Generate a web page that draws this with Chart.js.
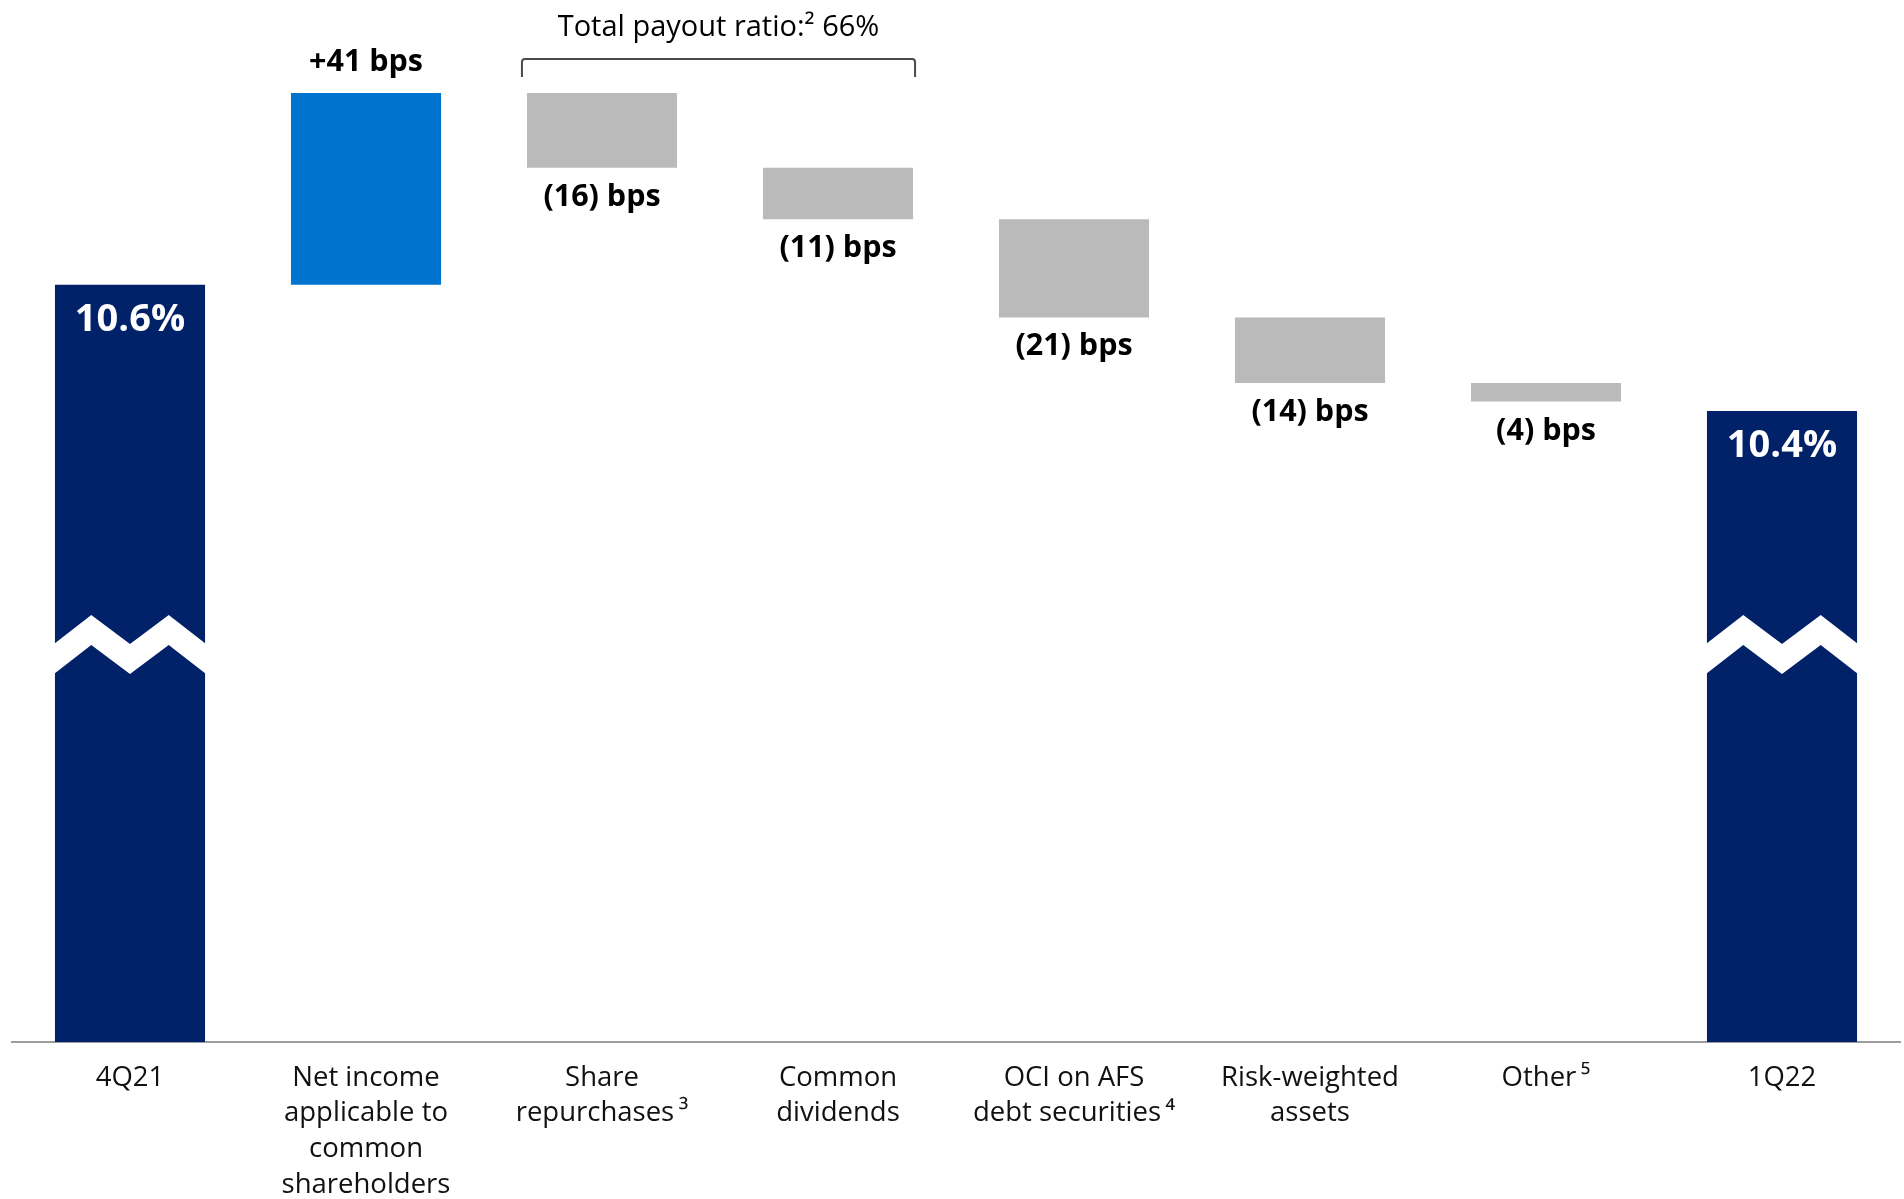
<!DOCTYPE html>
<html><head><meta charset="utf-8">
<script src="https://cdn.jsdelivr.net/npm/chart.js@4.4.1/dist/chart.umd.min.js"></script>
<style>html,body{margin:0;padding:0;background:#fff;overflow:hidden}#wrap{width:1904px;height:1199px;position:relative}</style>
</head><body><div id="wrap"><canvas id="c" width="1904" height="1199"></canvas></div>
<script>
// ---- data ----
const categories = [
  ["4Q21"],
  ["Net income", "applicable to", "common", "shareholders"],
  ["Share", "repurchases\u2009³"],
  ["Common", "dividends"],
  ["OCI on AFS", "debt securities\u2009⁴"],
  ["Risk-weighted", "assets"],
  ["Other\u2009⁵"],
  ["1Q22"]
];
const startValueBps = 1060;           // 10.6%
const changesBps = [41, -16, -11, -21, -14, -4];
const endValueBps = 1033;             // 10.4% bar (as drawn)
const valueLabels = ["10.6%", "+41 bps", "(16) bps", "(11) bps", "(21) bps", "(14) bps", "(4) bps", "10.4%"];
const payoutLabel = "Total payout ratio:² 66%";
const axisMinBps = 898;
const axisMaxBps = 1110;

// ---- build floating bars ----
const floating = [[axisMinBps, startValueBps]];
let level = startValueBps;
changesBps.forEach(d => { floating.push([level, level + d]); level += d; });
floating.push([axisMinBps, endValueBps]);

const NAVY = '#012169', BLUE = '#0073CF', GRAY = '#BABABA';
const colors = floating.map((v, i) => {
  if (i === 0 || i === floating.length - 1) return NAVY;
  return changesBps[i - 1] > 0 ? BLUE : GRAY;
});

const FONT = '"Open Sans", "Noto Sans", sans-serif';

const overlay = {
  id: 'overlay',
  afterDatasetsDraw(chart) {
    const ctx = chart.ctx;
    const meta = chart.getDatasetMeta(0);
    const last = meta.data.length - 1;
    const ca = chart.chartArea;
    const rects = meta.data.map(bar => {
      const p = bar.getProps(['x', 'y', 'base', 'width'], true);
      return { left: p.x - p.width / 2, right: p.x + p.width / 2, top: Math.min(p.y, p.base), bottom: Math.max(p.y, p.base), cx: p.x, w: p.width };
    });
    ctx.save();
    rects.forEach((r, i) => {
      ctx.textAlign = 'center';
      ctx.textBaseline = 'alphabetic';
      if (i === 0 || i === last) {
        // axis-break zigzag
        const Y = ca.bottom - 398, amp = 29, band = 30;
        const l = r.left - 1, rr = r.right + 1;
        ctx.fillStyle = '#ffffff';
        ctx.beginPath();
        ctx.moveTo(l, Y);
        ctx.lineTo(r.left + 0.242 * r.w, Y - amp);
        ctx.lineTo(r.left + 0.5 * r.w, Y);
        ctx.lineTo(r.left + 0.758 * r.w, Y - amp);
        ctx.lineTo(rr, Y);
        ctx.lineTo(rr, Y + band);
        ctx.lineTo(r.left + 0.758 * r.w, Y - amp + band);
        ctx.lineTo(r.left + 0.5 * r.w, Y + band);
        ctx.lineTo(r.left + 0.242 * r.w, Y - amp + band);
        ctx.lineTo(l, Y + band);
        ctx.closePath();
        ctx.fill();
        ctx.fillStyle = '#ffffff';
        ctx.font = '700 38px ' + FONT;
        ctx.fillText(valueLabels[i], r.cx, r.top + 46);
      } else {
        ctx.fillStyle = '#000000';
        ctx.font = '700 30.5px ' + FONT;
        if (changesBps[i - 1] > 0) ctx.fillText(valueLabels[i], r.cx, r.top - 22);
        else ctx.fillText(valueLabels[i], r.cx, r.bottom + 38);
      }
    });
    // payout bracket over share repurchases + common dividends
    const a = rects[2], b = rects[3];
    const xL = a.left - 5, xR = b.right + 2, yT = a.top - 34, yE = a.top - 16, rad = 3;
    ctx.strokeStyle = '#4a4a4a';
    ctx.lineWidth = 2;
    ctx.beginPath();
    ctx.moveTo(xL, yE);
    ctx.lineTo(xL, yT + rad);
    ctx.quadraticCurveTo(xL, yT, xL + rad, yT);
    ctx.lineTo(xR - rad, yT);
    ctx.quadraticCurveTo(xR, yT, xR, yT + rad);
    ctx.lineTo(xR, yE);
    ctx.stroke();
    ctx.fillStyle = '#000000';
    ctx.font = '400 29px ' + FONT;
    ctx.textAlign = 'center';
    ctx.fillText(payoutLabel, (xL + xR) / 2, yT - 23);
    ctx.restore();
  }
};

new Chart(document.getElementById('c'), {
  type: 'bar',
  data: {
    labels: categories,
    datasets: [{
      data: floating,
      backgroundColor: colors,
      borderWidth: 0,
      borderSkipped: false,
      barPercentage: 0.636,
      categoryPercentage: 1
    }]
  },
  options: {
    responsive: false,
    animation: false,
    devicePixelRatio: 1,
    layout: { padding: { top: 51, left: 12, right: 4, bottom: 0 } },
    plugins: { legend: { display: false }, tooltip: { enabled: false } },
    scales: {
      x: {
        offset: true,
        grid: { display: false, drawTicks: false },
        border: { display: true, color: '#9d9d9d', width: 2 },
        ticks: {
          color: '#111111',
          font: { family: FONT, size: 27.5, weight: '400', lineHeight: 1.3 },
          padding: 18,
          maxRotation: 0,
          autoSkip: false
        },
        afterFit(scale) { scale.height = 157; }
      },
      y: {
        display: false,
        min: axisMinBps,
        max: axisMaxBps
      }
    }
  },
  plugins: [overlay]
});
</script>
</body></html>
